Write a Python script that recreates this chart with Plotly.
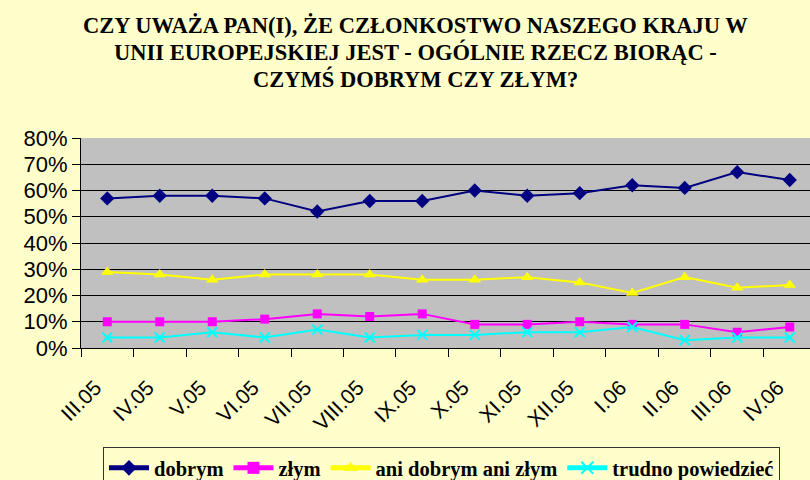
import plotly.graph_objects as go

categories = ["III.05", "IV.05", "V.05", "VI.05", "VII.05", "VIII.05", "IX.05",
              "X.05", "XI.05", "XII.05", "I.06", "II.06", "III.06", "IV.06"]
dobrym = [57, 58, 58, 57, 52, 56, 56, 60, 58, 59, 62, 61, 67, 64]
zlym = [10, 10, 10, 11, 13, 12, 13, 9, 9, 10, 9, 9, 6, 8]
ani = [29, 28, 26, 28, 28, 28, 26, 26, 27, 25, 21, 27, 23, 24]
trudno = [4, 4, 6, 4, 7, 4, 5, 5, 6, 6, 8, 3, 4, 4]

series_names = ["dobrym", "złym", "ani dobrym ani złym", "trudno powiedzieć"]
title_lines = [
    "CZY UWAŻA PAN(I), ŻE CZŁONKOSTWO NASZEGO KRAJU W",
    "UNII EUROPEJSKIEJ JEST - OGÓLNIE RZECZ BIORĄC -",
    "CZYMŚ DOBRYM CZY ZŁYM?",
]

W, H = 810, 480
L, T, B = 81, 138, 132
PH = H - T - B

fig = go.Figure()
styles = [
    (dobrym, "#000080", "diamond", 11, None),
    (zlym, "#FF00FF", "square", 9, None),
    (ani, "#FFFF00", "triangle-up", 11, None),
    (trudno, "#00FFFF", "x-thin-open", 10, 2),
]
for (vals, col, sym, size, mlw), name in zip(styles, series_names):
    marker = dict(symbol=sym, size=size, color=col)
    if mlw:
        marker["line"] = dict(color=col, width=mlw)
    fig.add_trace(go.Scatter(
        x=categories, y=vals, name=name, mode="lines+markers",
        line=dict(color=col, width=2), marker=marker,
    ))

for i, line in enumerate(title_lines):
    fig.add_annotation(
        text="<b>" + line + "</b>", xref="paper", yref="paper",
        x=(415.5 - L) / (W - L), y=(H - B - (26 + 26.5 * i)) / PH,
        xanchor="center", yanchor="middle", showarrow=False,
        font=dict(family="Liberation Serif", size=22.5, color="#000000"),
    )

fig.update_layout(
    width=W, height=H,
    margin=dict(l=L, r=0, t=T, b=B, pad=0, autoexpand=False),
    paper_bgcolor="#FFFFCC",
    plot_bgcolor="#C0C0C0",
    showlegend=True,
    legend=dict(
        orientation="h", xref="container", yref="container",
        x=103 / W, xanchor="left", y=1 - 447 / H, yanchor="top",
        bgcolor="#FFFFCC", bordercolor="#333333", borderwidth=1,
        font=dict(family="Liberation Serif", size=20.5, color="#000000", weight="bold"),
        itemsizing="constant", itemwidth=40, tracegroupgap=0,
    ),
    font=dict(family="Liberation Sans", color="#000000"),
)
fig.update_xaxes(
    type="category", range=[-0.5, 13.386], tickson="boundaries",
    ticks="outside", ticklen=8, tickcolor="#000000", automargin=False,
    showline=True, linecolor="#000000", linewidth=1,
    showgrid=False, tickangle=-45,
    ticklabelstandoff=18, ticklabelshift=-12,
    tickfont=dict(family="Liberation Sans", size=21, color="#000000"),
)
fig.update_yaxes(
    range=[0, 80], dtick=10, ticksuffix="%", automargin=False,
    ticks="outside", ticklen=8, tickcolor="#000000",
    showline=True, linecolor="#000000", linewidth=1,
    showgrid=True, gridcolor="#000000", gridwidth=1,
    zeroline=False,
    tickfont=dict(family="Liberation Sans", size=22, color="#000000"),
)

fig.write_html(
    "out.html",
    config={"displayModeBar": False},
    post_script="document.body.style.margin='0';document.body.style.background='#FFFFCC';",
)
